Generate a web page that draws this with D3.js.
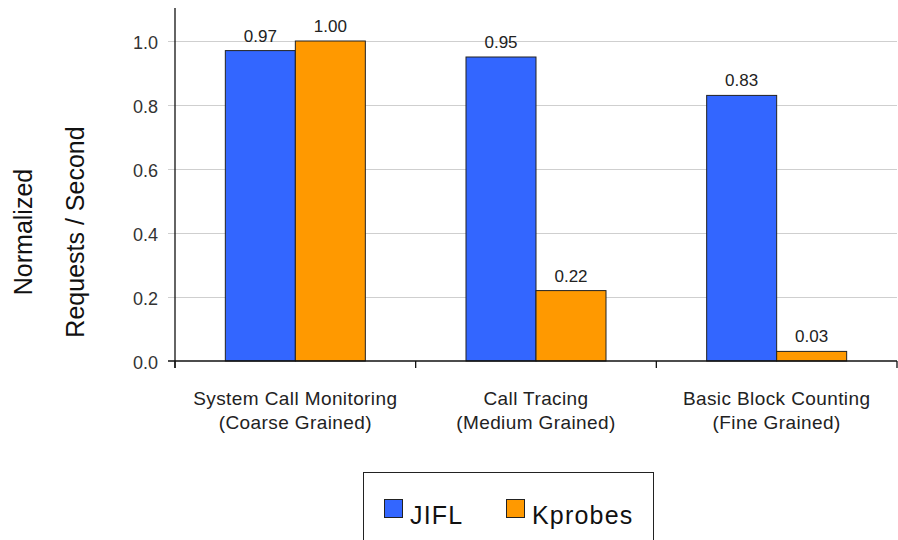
<!DOCTYPE html>
<html>
<head>
<meta charset="utf-8">
<script src="https://cdn.jsdelivr.net/npm/d3@7"></script>
<style>
  html, body { margin: 0; padding: 0; background: #fff; }
  svg { display: block; font-family: "Liberation Sans", Arial, sans-serif; }
</style>
</head>
<body>
<svg id="chart" width="898" height="540"></svg>
<script>
// Workload categories (two-line labels)
const categories = ["System Call Monitoring", "Call Tracing", "Basic Block Counting"];
const categorySubLabels = ["(Coarse Grained)", "(Medium Grained)", "(Fine Grained)"];
const seriesNames = ["JIFL", "Kprobes"];
const jiflValues = [0.97, 0.95, 0.83];
const kprobesValues = [1.00, 0.22, 0.03];
const yTicks = [0, 0.2, 0.4, 0.6, 0.8, 1.0];
const seriesColors = ["#3366FF", "#FF9900"];

(function draw() {
  const svg = d3.select("#chart");

  const plotLeft = 175, plotRight = 897, plotTop = 9, plotBottom = 361;

  const x0 = d3.scaleBand().domain(categories).range([plotLeft, plotRight]).padding(0);
  const x1 = d3.scaleBand().domain(seriesNames).range([0, x0.bandwidth()])
    .paddingInner(0).paddingOuter(0.719);
  const y = d3.scaleLinear().domain([0, 1.1]).range([plotBottom, plotTop]);

  const seriesValues = { "JIFL": jiflValues, "Kprobes": kprobesValues };
  const color = d3.scaleOrdinal().domain(seriesNames).range(seriesColors);

  // Horizontal gridlines with short tick stubs left of the axis
  const grid = svg.append("g")
    .attr("transform", `translate(${plotLeft},0)`)
    .call(d3.axisLeft(y).tickValues(yTicks.filter(v => v > 0))
      .tickSize(-(plotRight - plotLeft)).tickFormat(""));
  grid.select(".domain").remove();
  grid.selectAll(".tick line").attr("stroke", "#cfcfcf").attr("x1", -7);

  // Y axis labels
  const yAxis = svg.append("g")
    .attr("transform", `translate(${plotLeft},0)`)
    .call(d3.axisLeft(y).tickValues(yTicks).tickSize(0).tickPadding(17)
      .tickFormat(d3.format(".1f")));
  yAxis.select(".domain").remove();
  yAxis.selectAll("text")
    .attr("font-size", 18).attr("fill", "#333")
    .attr("font-family", "Liberation Sans, Arial, sans-serif")
    .attr("dy", "0.42em");

  // Bars
  const groups = svg.append("g").selectAll("g")
    .data(categories)
    .join("g")
    .attr("transform", d => `translate(${x0(d)},0)`);

  groups.selectAll("rect")
    .data((d, i) => seriesNames.map(s => ({ s, v: seriesValues[s][i] })))
    .join("rect")
    .attr("x", d => x1(d.s))
    .attr("y", d => y(d.v))
    .attr("width", x1.bandwidth())
    .attr("height", d => y(0) - y(d.v))
    .attr("fill", d => color(d.s))
    .attr("stroke", "#222")
    .attr("stroke-width", 1);

  groups.selectAll("text.val")
    .data((d, i) => seriesNames.map(s => ({ s, v: seriesValues[s][i] })))
    .join("text")
    .attr("class", "val")
    .attr("x", d => x1(d.s) + x1.bandwidth() / 2)
    .attr("y", d => y(d.v) - 9)
    .attr("text-anchor", "middle")
    .attr("font-size", 17)
    .attr("fill", "#222")
    .text(d => d3.format(".2f")(d.v));

  // Y axis line
  svg.append("line")
    .attr("x1", plotLeft).attr("x2", plotLeft)
    .attr("y1", plotTop - 1).attr("y2", plotBottom + 7)
    .attr("stroke", "#111").attr("stroke-width", 1.3);

  // X axis line and category dividers
  svg.append("line")
    .attr("x1", plotLeft - 7).attr("x2", plotRight)
    .attr("y1", plotBottom).attr("y2", plotBottom)
    .attr("stroke", "#111").attr("stroke-width", 1.3);

  const dividers = categories.map(c => x0(c))
    .concat([x0(categories[categories.length - 1]) + x0.bandwidth()]);
  svg.append("g").selectAll("line")
    .data(dividers)
    .join("line")
    .attr("x1", d => d).attr("x2", d => d)
    .attr("y1", plotBottom).attr("y2", plotBottom + 7)
    .attr("stroke", "#111").attr("stroke-width", 1.3);

  // Category labels
  const catLabels = svg.append("g").selectAll("text")
    .data(categories)
    .join("text")
    .attr("text-anchor", "middle")
    .attr("font-size", 19)
    .attr("letter-spacing", 0.4)
    .attr("fill", "#222");
  catLabels.append("tspan")
    .attr("x", d => x0(d) + x0.bandwidth() / 2)
    .attr("y", 405)
    .text(d => d);
  catLabels.append("tspan")
    .attr("x", d => x0(d) + x0.bandwidth() / 2)
    .attr("y", 429)
    .text((d, i) => categorySubLabels[i]);

  // Y axis title (two rotated lines)
  svg.append("text")
    .attr("transform", "translate(32,232) rotate(-90)")
    .attr("text-anchor", "middle")
    .attr("font-size", 25)
    .attr("fill", "#111")
    .text("Normalized");
  svg.append("text")
    .attr("transform", "translate(84,232) rotate(-90)")
    .attr("text-anchor", "middle")
    .attr("font-size", 25)
    .attr("fill", "#111")
    .text("Requests / Second");

  // Legend
  const legend = svg.append("g");
  legend.append("rect")
    .attr("x", 363.5).attr("y", 472.5)
    .attr("width", 290).attr("height", 80)
    .attr("fill", "#fff").attr("stroke", "#222");

  const legendX = [384, 506];
  const items = legend.selectAll("g.item")
    .data(seriesNames)
    .join("g")
    .attr("class", "item")
    .attr("transform", (d, i) => `translate(${legendX[i]},0)`);
  items.append("rect")
    .attr("x", 0.5).attr("y", 499.5)
    .attr("width", 18).attr("height", 18)
    .attr("fill", d => color(d))
    .attr("stroke", "#222");
  items.append("text")
    .attr("x", 26).attr("y", 524)
    .attr("font-size", 25)
    .attr("letter-spacing", 1.2)
    .attr("fill", "#111")
    .text(d => d);
})();
</script>
</body>
</html>
